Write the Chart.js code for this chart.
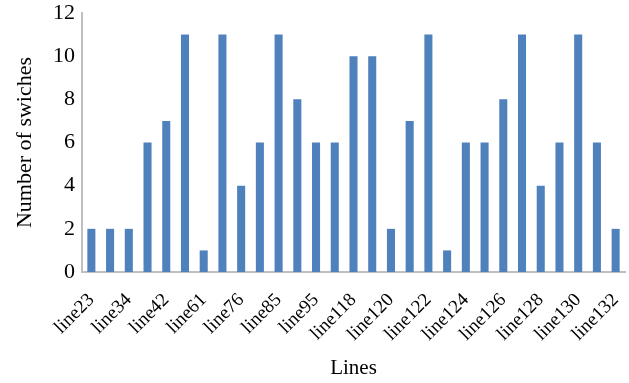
<!DOCTYPE html>
<html>
<head>
<meta charset="utf-8">
<script src="https://cdn.jsdelivr.net/npm/chart.js@4"></script>
<style>
html,body{margin:0;padding:0;background:#fff;}
#wrap{width:629px;height:383px;position:relative;}
</style>
</head>
<body>
<div id="wrap"><canvas id="c" width="629" height="383"></canvas></div>
<script>
const categories = ["line23","line28","line34","line38","line42","line55","line61","line70","line76","line80","line85","line90","line95","line110","line118","line119","line120","line121","line122","line123","line124","line125","line126","line127","line128","line129","line130","line131","line132"];
const switches = [2,2,2,6,7,11,1,11,4,6,11,8,6,6,10,10,2,7,11,1,6,6,8,11,4,6,11,6,2];
const yTicks = [0,2,4,6,8,10,12];
const xTitle = "Lines";
const yTitle = "Number of swiches";

const serif = "'Liberation Serif','Times New Roman',serif";
new Chart(document.getElementById('c'), {
  type: 'bar',
  data: {
    labels: categories,
    datasets: [{
      data: switches,
      backgroundColor: '#4F81BD',
      borderWidth: 0,
      categoryPercentage: 1,
      barPercentage: 0.43
    }]
  },
  options: {
    responsive: false,
    animation: false,
    layout: { padding: { top: 13, right: 4, left: 0, bottom: 0 } },
    plugins: { legend: { display: false }, tooltip: { enabled: false } },
    scales: {
      x: {
        grid: { display: false, drawTicks: false },
        border: { display: true, color: '#BFBFBF', width: 2 },
        ticks: {
          autoSkip: false,
          maxRotation: 45, minRotation: 45,
          padding: 17,
          color: '#000',
          font: { family: serif, size: 19 },
          callback: function(v, i) { return i % 2 === 0 ? categories[i] : ''; }
        },
        title: { display: true, text: xTitle, color: '#000', font: { family: serif, size: 21 }, padding: { top: 0, bottom: 2 } },
        afterFit: function(s) { s.height = 111; s.paddingLeft = 0; s.paddingRight = 0; }
      },
      y: {
        min: 0, max: 12,
        afterBuildTicks: function(s) { s.ticks = yTicks.map(v => ({ value: v })); },
        grid: { display: false, drawTicks: false },
        border: { display: true, color: '#BFBFBF', width: 2 },
        ticks: { padding: 7, color: '#000', font: { family: serif, size: 22 } },
        title: { display: true, text: yTitle, color: '#000', font: { family: serif, size: 22 }, padding: { top: 12, bottom: 0 } },
        afterFit: function(s) { s.width = 82; s.paddingTop = 0; s.paddingBottom = 0; }
      }
    }
  }
});
</script>
</body>
</html>
